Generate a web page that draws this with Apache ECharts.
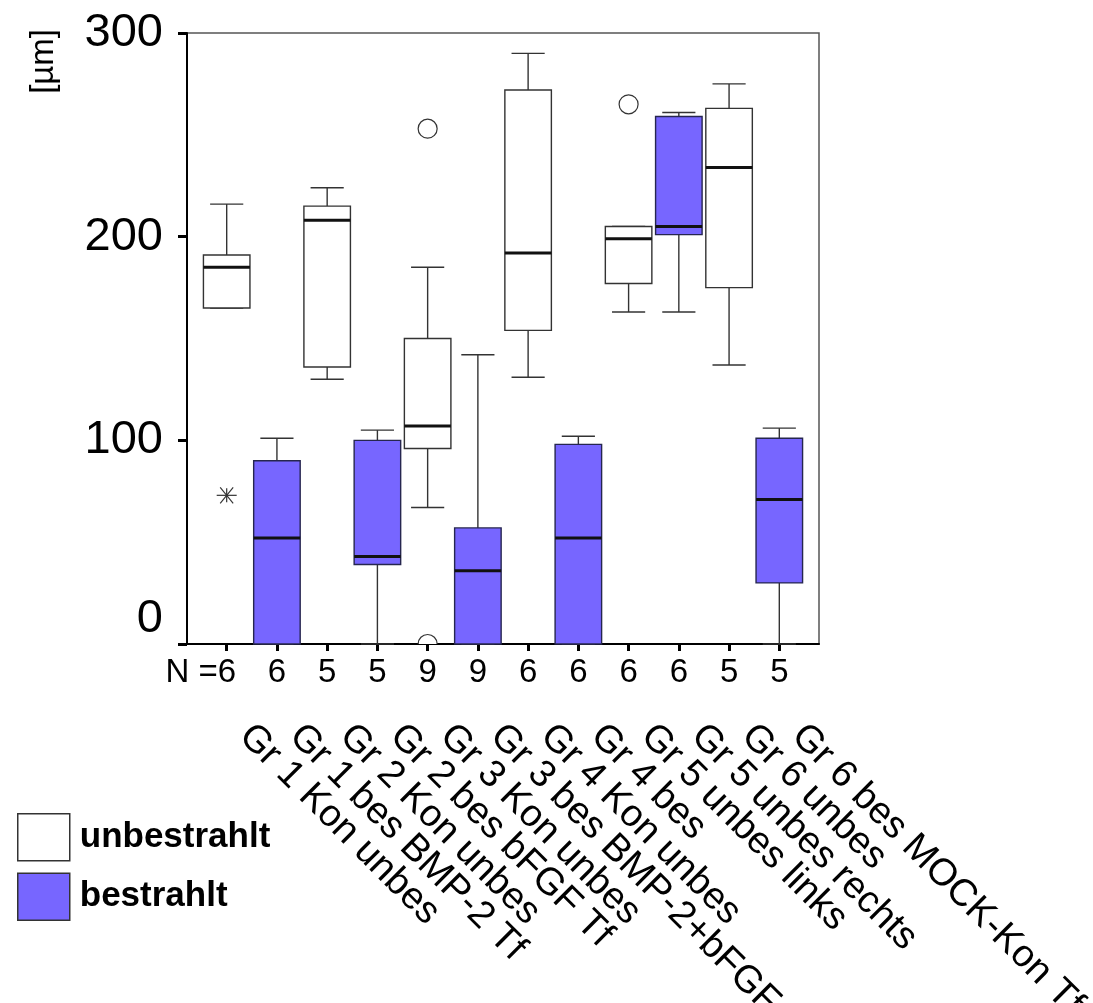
<!DOCTYPE html>
<html>
<head>
<meta charset="utf-8">
<script src="https://cdn.jsdelivr.net/npm/echarts@6/dist/echarts.min.js"></script>
<style>
html,body{margin:0;padding:0;background:#fff;}
#chart{width:1093px;height:1003px;}
</style>
</head>
<body>
<div id="chart"></div>
<script>
// ---------- data ----------
const categories = [
  'Gr 1 Kon unbes', 'Gr 1 bes BMP-2 Tf', 'Gr 2 Kon unbes', 'Gr 2 bes bFGF Tf',
  'Gr 3 Kon unbes', 'Gr 3 bes BMP-2+bFGF', 'Gr 4 Kon unbes', 'Gr 4 bes',
  'Gr 5 unbes links', 'Gr 5 unbes rechts', 'Gr 6 unbes', 'Gr 6 bes MOCK-Kon Tf'
];
const nCounts = [6, 6, 5, 5, 9, 9, 6, 6, 6, 6, 5, 5];
const groupOf = ['unbestrahlt', 'bestrahlt', 'unbestrahlt', 'bestrahlt', 'unbestrahlt', 'bestrahlt',
                 'unbestrahlt', 'bestrahlt', 'unbestrahlt', 'bestrahlt', 'unbestrahlt', 'bestrahlt'];
const lowWhisker  = [165, 0, 130, 0, 67, 0, 131, 0, 163, 163, 137, 0];
const q1          = [165, 0, 136, 39, 96, 0, 154, 0, 177, 201, 175, 30];
const medians     = [185, 52, 208, 43, 107, 36, 192, 52, 199, 205, 234, 71];
const q3          = [191, 90, 215, 100, 150, 57, 272, 98, 205, 259, 263, 101];
const highWhisker = [216, 101, 224, 105, 185, 142, 290, 102, 205, 261, 275, 106];
const outlierCat  = [4, 4, 8];
const outlierVal  = [253, 0, 265];
const extremeCat  = [0];
const extremeVal  = [73];
const yTickValues = [0, 100, 200, 300];
const groups = ['unbestrahlt', 'bestrahlt'];

// ---------- styling / layout ----------
const FONT = '"Liberation Sans", Arial, sans-serif';
const FILL = { unbestrahlt: '#ffffff', bestrahlt: '#7766ff' };
const EDGE = { unbestrahlt: '#333333', bestrahlt: '#26264f' };
const BOX_HALF = 0.463;
const CAP_HALF = 0.33;
const PAD = 0.79;                         // empty space (in category units) each side of the first/last band centre
const XMIN = -PAD, XMAX = categories.length - 1 + PAD;
const GRID_LEFT = 187, GRID_RIGHT = 274, GRID_TOP = 33, GRID_BOTTOM = 359, W = 1093;
const plotW = W - GRID_LEFT - GRID_RIGHT;
const unitPx = plotW / (XMAX - XMIN);
const bandLeft = GRID_LEFT + (PAD - 0.5) * unitPx;
const bandRight = W - GRID_RIGHT - (PAD - 0.5) * unitPx;
const catIdx = categories.map((_, i) => i);

function boxData(g) {
  const out = [];
  categories.forEach((c, i) => {
    if (groupOf[i] === g) out.push([i, lowWhisker[i], q1[i], medians[i], q3[i], highWhisker[i]]);
  });
  return out;
}

function makeRenderBox(g) {
  return function (params, api) {
    const i = api.value(0);
    const lo = api.coord([i, api.value(1)]);
    const b1 = api.coord([i, api.value(2)]);
    const md = api.coord([i, api.value(3)]);
    const b3 = api.coord([i, api.value(4)]);
    const hi = api.coord([i, api.value(5)]);
    const unit = api.size([1, 0])[0];
    const hw = unit * BOX_HALF, cw = unit * CAP_HALF, x = lo[0];
    const wl = { stroke: '#333', lineWidth: 1.4, fill: null };
    return {
      type: 'group',
      children: [
        { type: 'line', shape: { x1: x, y1: b3[1], x2: x, y2: hi[1] }, style: wl },
        { type: 'line', shape: { x1: x - cw, y1: hi[1], x2: x + cw, y2: hi[1] }, style: wl },
        { type: 'line', shape: { x1: x, y1: b1[1], x2: x, y2: lo[1] }, style: wl },
        { type: 'line', shape: { x1: x - cw, y1: lo[1], x2: x + cw, y2: lo[1] }, style: wl },
        { type: 'rect', shape: { x: x - hw, y: b3[1], width: 2 * hw, height: b1[1] - b3[1] },
          style: { fill: FILL[g], stroke: EDGE[g], lineWidth: 1.4 } },
        { type: 'line', shape: { x1: x - hw, y1: md[1], x2: x + hw, y2: md[1] },
          style: { stroke: '#111', lineWidth: 3 } }
      ]
    };
  };
}

function gridClip(params) {
  const cs = params.coordSys;
  return { type: 'rect', shape: { x: cs.x, y: cs.y, width: cs.width, height: cs.height } };
}

function renderOutlier(params, api) {
  const p = api.coord([api.value(0), api.value(1)]);
  return { type: 'group', clipPath: gridClip(params), children: [
    { type: 'circle', shape: { cx: p[0], cy: p[1], r: 9.5 },
      style: { fill: '#fff', stroke: '#333', lineWidth: 1.2 } }
  ]};
}
function renderExtreme(params, api) {
  const p = api.coord([api.value(0), api.value(1)]);
  const s = { stroke: '#333', lineWidth: 1.2 };
  const x = p[0], y = p[1];
  return { type: 'group', children: [
    { type: 'line', shape: { x1: x - 10, y1: y, x2: x + 10, y2: y }, style: s },
    { type: 'line', shape: { x1: x - 6.5, y1: y - 8, x2: x + 6.5, y2: y + 8 }, style: s },
    { type: 'line', shape: { x1: x - 6.5, y1: y + 8, x2: x + 6.5, y2: y - 8 }, style: s },
    { type: 'line', shape: { x1: x, y1: y - 7, x2: x, y2: y + 7 }, style: s }
  ]};
}

const chart = echarts.init(document.getElementById('chart'), null, { renderer: 'canvas' });

const option = {
  animation: false,
  backgroundColor: '#fff',
  textStyle: { fontFamily: FONT },
  grid: [{
    left: GRID_LEFT, right: GRID_RIGHT, top: GRID_TOP, bottom: GRID_BOTTOM,
    show: true, borderColor: '#555', borderWidth: 1.5, backgroundColor: 'transparent',
    containLabel: false, outerBoundsMode: 'none'
  }, {
    // label grid: same vertical extent, spans exactly the 12 category bands
    left: bandLeft, right: W - bandRight, top: GRID_TOP, bottom: GRID_BOTTOM,
    show: false, containLabel: false, outerBoundsMode: 'none'
  }],
  legend: {
    orient: 'vertical', left: 17, top: 813, padding: 0,
    itemWidth: 52, itemHeight: 47, itemGap: 11,
    selectedMode: false,
    textStyle: { fontFamily: FONT, fontSize: 35, fontWeight: 'bold', color: '#000', padding: [0, 0, 0, 5] },
    data: groups.map(g => ({
      name: g, icon: 'rect',
      itemStyle: { color: FILL[g], borderColor: '#333', borderWidth: 1.5 }
    }))
  },
  graphic: [{
    type: 'text', left: 27, top: 29, rotation: Math.PI / 2,
    style: { text: '[µm]', font: '33px ' + FONT, fill: '#000' }
  }],
  xAxis: [{
    gridIndex: 0, type: 'value', position: 'bottom', min: XMIN, max: XMAX,
    splitLine: { show: false },
    axisLine: { show: true, onZero: false, lineStyle: { color: '#000', width: 2 } },
    axisTick: { show: true, inside: false, length: 7, customValues: catIdx, lineStyle: { color: '#000', width: 3 } },
    axisLabel: { show: false }
  }, {
    gridIndex: 1, type: 'category', position: 'bottom', data: categories, boundaryGap: true,
    axisLine: { show: false }, axisTick: { show: false }, splitLine: { show: false },
    axisLabel: {
      interval: 0, rotate: -45, margin: 68, padding: [0, 0, 0, 26],
      fontFamily: FONT, fontSize: 38, color: '#000'
    }
  }, {
    gridIndex: 1, type: 'category', position: 'bottom', data: nCounts.map(String), boundaryGap: true,
    axisLine: { show: false }, axisTick: { show: false }, splitLine: { show: false },
    axisLabel: {
      interval: 0, margin: 12, color: '#000', fontFamily: FONT, fontSize: 33,
      formatter: (v, i) => (i === 0 ? '{a|N =' + v + '}{p| }' : '{a|' + v + '}'),
      rich: {
        a: { fontFamily: FONT, fontSize: 33, color: '#000' },
        p: { fontFamily: FONT, fontSize: 33, width: 52 }
      }
    }
  }],
  yAxis: [{
    gridIndex: 0, type: 'value', min: 0, max: 300, interval: 100,
    splitLine: { show: false },
    axisLine: { show: true, onZero: false, lineStyle: { color: '#000', width: 2 } },
    axisTick: { show: true, inside: false, length: 9, lineStyle: { color: '#000', width: 3 } },
    axisLabel: {
      margin: 24, fontFamily: FONT, fontSize: 47, color: '#000',
      formatter: v => (v === yTickValues[0] ? '{z|' + v + '}' : '{n|' + v + '}'),
      rich: {
        n: { fontFamily: FONT, fontSize: 47, color: '#000' },
        z: { fontFamily: FONT, fontSize: 47, color: '#000', padding: [0, 0, 50, 0] }
      }
    }
  }, {
    gridIndex: 1, type: 'value', min: 0, max: 300, show: false
  }],
  series: [
    ...groups.map(g => ({
      name: g, type: 'custom', xAxisIndex: 0, yAxisIndex: 0,
      itemStyle: { color: FILL[g], borderColor: '#333' },
      encode: { x: 0, y: [1, 2, 3, 4, 5] },
      renderItem: makeRenderBox(g),
      data: boxData(g), z: 3
    })),
    {
      name: 'outliers', type: 'custom', xAxisIndex: 0, yAxisIndex: 0, clip: true,
      encode: { x: 0, y: 1 }, renderItem: renderOutlier,
      data: outlierCat.map((c, k) => [c, outlierVal[k]]), z: 4
    },
    {
      name: 'extremes', type: 'custom', xAxisIndex: 0, yAxisIndex: 0, clip: true,
      encode: { x: 0, y: 1 }, renderItem: renderExtreme,
      data: extremeCat.map((c, k) => [c, extremeVal[k]]), z: 4
    }
  ]
};
chart.setOption(option);
</script>
</body>
</html>
